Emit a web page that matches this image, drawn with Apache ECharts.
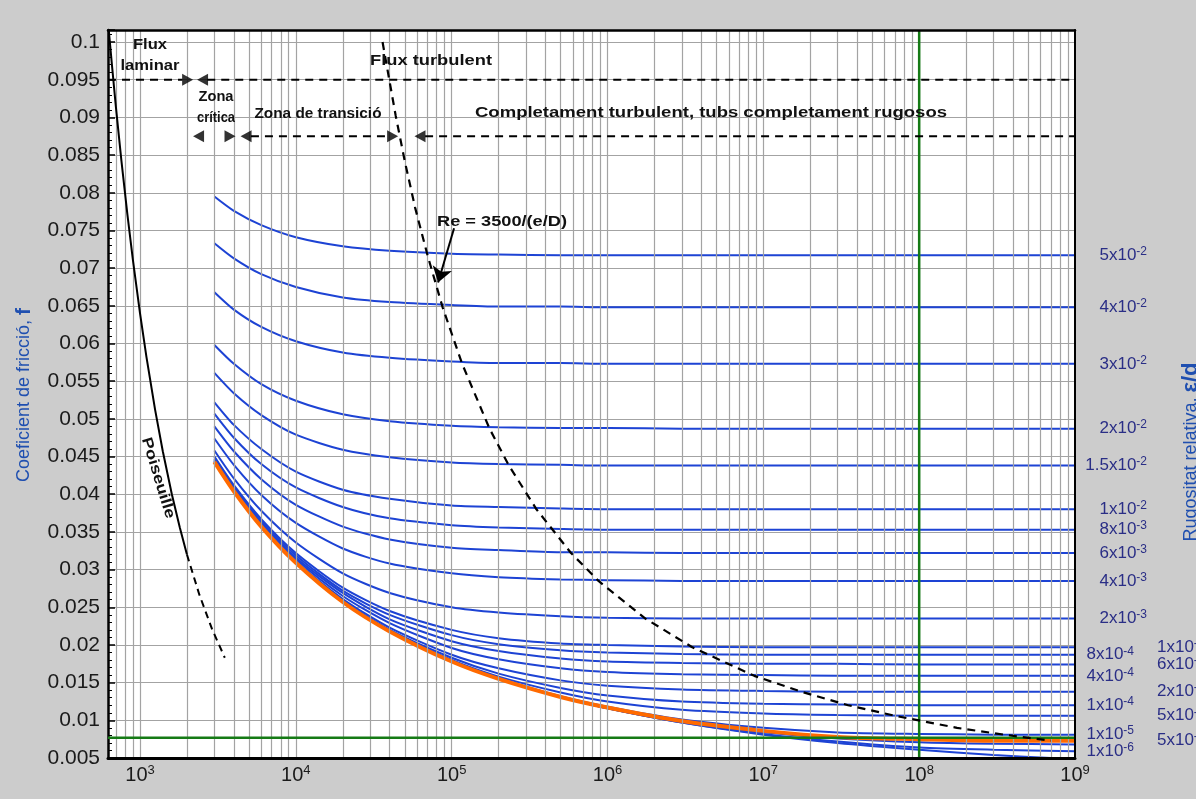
<!DOCTYPE html>
<html>
<head>
<meta charset="utf-8">
<title>Diagrama de Moody</title>
<script src="https://cdn.jsdelivr.net/npm/echarts@6/dist/echarts.min.js"></script>
<style>
  html, body { margin: 0; padding: 0; background: #cccccc; }
  #chart { width: 1196px; height: 799px; }
</style>
</head>
<body>
<div id="chart"></div>
<script>
// ---- axis ranges ----
const RE_MIN = 623;
const RE_MAX = 1e9;
const F_MIN = 0.005;
const F_MAX = 0.1016;

// ---- Reynolds numbers at which each roughness curve is sampled ----
const RE = [3000, 4000, 6000, 1e4, 2e4, 4e4, 1e5, 2e5, 5e5, 1e6, 3e6, 1e7, 3e7, 1e8, 3e8, 1e9];
const RE_TAIL = [5e5, 1e6, 3e6, 1e7, 3e7, 1e8, 3e8, 1e9];
const RE_TAIL_SHORT = [5e5, 1e6, 3e6, 1e7, 3e7, 1e8, 3e8, 7e8];

// ---- friction factor f for each relative roughness e/d ----
const F_5E_2  = [0.0795, 0.0776, 0.0757, 0.0741, 0.0729, 0.0723, 0.0719, 0.0718, 0.0717, 0.0717, 0.0717, 0.0717, 0.0717, 0.0717, 0.0717, 0.0717];
const F_4E_2  = [0.0733, 0.0713, 0.0692, 0.0675, 0.0661, 0.0655, 0.0651, 0.0649, 0.0649, 0.0648, 0.0648, 0.0648, 0.0648, 0.0648, 0.0648, 0.0648];
const F_3E_2  = [0.0668, 0.0645, 0.0622, 0.0603, 0.0588, 0.0581, 0.0576, 0.0574, 0.0574, 0.0573, 0.0573, 0.0573, 0.0573, 0.0573, 0.0573, 0.0573];
const F_2E_2  = [0.0598, 0.0573, 0.0546, 0.0524, 0.0506, 0.0497, 0.0491, 0.0489, 0.0488, 0.0488, 0.0487, 0.0487, 0.0487, 0.0487, 0.0487, 0.0487];
const F_15E_3 = [0.0561, 0.0534, 0.0505, 0.0479, 0.0459, 0.0449, 0.0442, 0.0440, 0.0439, 0.0438, 0.0438, 0.0438, 0.0438, 0.0438, 0.0438, 0.0438];
const F_1E_2  = [0.0522, 0.0492, 0.0460, 0.0430, 0.0406, 0.0394, 0.0385, 0.0383, 0.0381, 0.0380, 0.0380, 0.0380, 0.0380, 0.0380, 0.0380, 0.0380];
const F_8E_3  = [0.0507, 0.0475, 0.0440, 0.0409, 0.0383, 0.0368, 0.0359, 0.0356, 0.0354, 0.0353, 0.0353, 0.0353, 0.0353, 0.0353, 0.0353, 0.0353];
const F_6E_3  = [0.0490, 0.0457, 0.0420, 0.0386, 0.0357, 0.0340, 0.0329, 0.0326, 0.0323, 0.0323, 0.0322, 0.0322, 0.0322, 0.0322, 0.0322, 0.0322];
const F_4E_3  = [0.0474, 0.0439, 0.0399, 0.0362, 0.0328, 0.0308, 0.0295, 0.0290, 0.0287, 0.0286, 0.0285, 0.0285, 0.0285, 0.0285, 0.0285, 0.0285];
const F_2E_3  = [0.0458, 0.0421, 0.0378, 0.0336, 0.0295, 0.0269, 0.0250, 0.0243, 0.0238, 0.0236, 0.0235, 0.0235, 0.0235, 0.0235, 0.0235, 0.0235];
const F_1E_3  = [0.0450, 0.0412, 0.0367, 0.0322, 0.0276, 0.0245, 0.0220, 0.0209, 0.0202, 0.0200, 0.0198, 0.0197, 0.0197, 0.0197, 0.0197, 0.0197];
const F_8E_4  = [0.0449, 0.0410, 0.0365, 0.0319, 0.0272, 0.0240, 0.0213, 0.0201, 0.0193, 0.0190, 0.0188, 0.0187, 0.0187, 0.0187, 0.0187, 0.0187];
const F_6E_4  = [0.0447, 0.0409, 0.0363, 0.0316, 0.0269, 0.0234, 0.0205, 0.0192, 0.0182, 0.0178, 0.0176, 0.0175, 0.0175, 0.0174, 0.0174, 0.0174];
const F_4E_4  = [0.0446, 0.0407, 0.0361, 0.0314, 0.0265, 0.0229, 0.0196, 0.0181, 0.0169, 0.0164, 0.0161, 0.0160, 0.0159, 0.0159, 0.0159, 0.0159];
const F_2E_4  = [0.0445, 0.0406, 0.0359, 0.0311, 0.0261, 0.0223, 0.0187, 0.0169, 0.0153, 0.0146, 0.0141, 0.0139, 0.0138, 0.0138, 0.0138, 0.0138];
const F_1E_4  = [0.0444, 0.0405, 0.0358, 0.0310, 0.0259, 0.0220, 0.0183, 0.0162, 0.0143, 0.0133, 0.0125, 0.0122, 0.0121, 0.0120, 0.0120, 0.0120];
const F_5E_5  = [0.0444, 0.0404, 0.0358, 0.0309, 0.0258, 0.0219, 0.0180, 0.0158, 0.0137, 0.0125, 0.0114, 0.0109, 0.0107, 0.0106, 0.0106, 0.0106];
const F_1E_5  = [0.0443, 0.0404, 0.0357, 0.0309, 0.0258, 0.0218, 0.0179, 0.0156, 0.0132, 0.0118, 0.0101, 0.0090, 0.0084, 0.0082, 0.0081, 0.0081];
const F_5E_6  = [0.0443, 0.0404, 0.0357, 0.0309, 0.0257, 0.0218, 0.0178, 0.0155, 0.0131, 0.0117, 0.0099, 0.0086, 0.0078, 0.0075, 0.0073, 0.0073];
const F_3E_6  = [0.0131, 0.0116, 0.0098, 0.0084, 0.0076, 0.0071, 0.0069, 0.0068];
const F_1E_6  = [0.0131, 0.0116, 0.0097, 0.0082, 0.0072, 0.0064, 0.0061, 0.0059];
const F_1E_7  = [0.0131, 0.0116, 0.0097, 0.0081, 0.0070, 0.0061, 0.0054, 0.0050];

// ---- laminar (Poiseuille) flow ----
const RE_LAM = [623, 660, 700, 760, 830, 900, 1000, 1100, 1250, 1400, 1600, 1800, 2000];
const F_LAM = [0.1027, 0.0970, 0.0914, 0.0842, 0.0771, 0.0711, 0.0640, 0.0582, 0.0512, 0.0457, 0.0400, 0.0356, 0.0320];
const RE_LAM_EXT = [2000, 2400, 2900, 3500];
const F_LAM_EXT = [0.0320, 0.0267, 0.0221, 0.0183];

// ---- start of complete turbulence, Re = 3500/(e/D) ----
const RE_BOUND = [36000, 43750, 50000, 58300, 70000, 87500, 116700, 175000, 233000, 350000, 583000, 875000, 1.75e6, 3.5e6, 8.75e6, 1.75e7, 3.5e7, 7e7, 1.75e8, 3.5e8, 7e8];
const F_BOUND = [0.1000, 0.0902, 0.0842, 0.0780, 0.0717, 0.0648, 0.0573, 0.0487, 0.0438, 0.0380, 0.0322, 0.0285, 0.0235, 0.0197, 0.0159, 0.0138, 0.0120, 0.0106, 0.0090, 0.0081, 0.0073];

// ---- flow regime bands ----
const F_BAND_TOP = 0.095;
const F_BAND_LOW = 0.0875;
const BAND_TOP_SEGMENTS = [[RE_MIN, 1870], [2700, RE_MAX]];
const BAND_LOW_SEGMENTS = [[5150, 38500], [67500, RE_MAX]];
const BAND_TOP_ARROWS_RIGHT = [2020];
const BAND_TOP_ARROWS_LEFT = [2520];
const BAND_LOW_ARROWS_RIGHT = [3780, 41800];
const BAND_LOW_ARROWS_LEFT = [2375, 4790, 62600];
const POINTER_FROM = [103600, 0.0753];
const POINTER_TO = [81800, 0.0681];

// ---- reference marks ----
const RE_MARK = 1e8;
const F_MARK = 0.0077;

// ---- vertical log grid ----
const GRID_MULTIPLIERS = [1, 2, 3, 4, 5, 6, 7, 8, 9];
const GRID_DECADES = [1e2, 1e3, 1e4, 1e5, 1e6, 1e7, 1e8, 1e9];

const FONT = '"Liberation Sans", Arial, Helvetica, sans-serif';
const BLUE = '#1d43d4';
const ORANGE = '#ff6a00';
const GREEN = '#157a15';
const NAVY = '#2a2e86';
const TITLE_BLUE = '#1f4fb0';
const GRID_GREY = '#a3a3a3';

// curve list: roughness label, label column, sample points
const CURVES = [
  { label: ['5x10', '-2'],   col: 'a', re: RE, f: F_5E_2 },
  { label: ['4x10', '-2'],   col: 'a', re: RE, f: F_4E_2 },
  { label: ['3x10', '-2'],   col: 'a', re: RE, f: F_3E_2 },
  { label: ['2x10', '-2'],   col: 'a', re: RE, f: F_2E_2 },
  { label: ['1.5x10', '-2'], col: 'a', re: RE, f: F_15E_3 },
  { label: ['1x10', '-2'],   col: 'a', re: RE, f: F_1E_2 },
  { label: ['8x10', '-3'],   col: 'a', re: RE, f: F_8E_3 },
  { label: ['6x10', '-3'],   col: 'a', re: RE, f: F_6E_3 },
  { label: ['4x10', '-3'],   col: 'a', re: RE, f: F_4E_3 },
  { label: ['2x10', '-3'],   col: 'a', re: RE, f: F_2E_3 },
  { label: ['1x10', '-3'],   col: 'c', re: RE, f: F_1E_3 },
  { label: ['8x10', '-4'],   col: 'b', re: RE, f: F_8E_4 },
  { label: ['6x10', '-4'],   col: 'c', re: RE, f: F_6E_4 },
  { label: ['4x10', '-4'],   col: 'b', re: RE, f: F_4E_4 },
  { label: ['2x10', '-4'],   col: 'c', re: RE, f: F_2E_4 },
  { label: ['1x10', '-4'],   col: 'b', re: RE, f: F_1E_4 },
  { label: ['5x10', '-5'],   col: 'c', re: RE, f: F_5E_5 },
  { label: ['1x10', '-5'],   col: 'b', re: RE, f: F_1E_5 },
  { label: null,             col: null, re: RE_TAIL, f: F_3E_6 },
  { label: ['1x10', '-6'],   col: 'b', re: RE_TAIL, f: F_1E_6 },
  { label: null,             col: null, re: RE_TAIL_SHORT, f: F_1E_7 },
  { label: ['5x10', '-6'],   col: 'c', re: RE, f: F_5E_6, highlight: true }
];

const pairs = (xs, ys) => xs.map((x, i) => [x, ys[i]]);

const gridValues = [];
GRID_DECADES.forEach(d => GRID_MULTIPLIERS.forEach(m => {
  const v = m * d;
  if (v > RE_MIN && v < RE_MAX) gridValues.push(v);
}));

const series = [];

// vertical grid lines at 1..9 x 10^k
series.push({
  type: 'line', data: [], silent: true, z: 1,
  markLine: {
    silent: true, symbol: ['none', 'none'], label: { show: false },
    lineStyle: { color: GRID_GREY, width: 1.2, type: 'solid' },
    emphasis: { disabled: true },
    data: gridValues.map(v => ({ xAxis: v }))
  }
});

// roughness curves
CURVES.forEach(c => {
  series.push({
    type: 'line', data: pairs(c.re, c.f), symbol: 'none', showSymbol: false,
    smooth: 0.25, silent: true,
    lineStyle: { color: c.highlight ? ORANGE : BLUE, width: c.highlight ? 4 : 2 },
    z: c.highlight ? 4 : 3
  });
});

// Poiseuille
series.push({
  type: 'line', data: pairs(RE_LAM, F_LAM), symbol: 'none', silent: true,
  lineStyle: { color: '#000', width: 2 }, z: 5
});
series.push({
  type: 'line', data: pairs(RE_LAM_EXT, F_LAM_EXT), symbol: 'none', silent: true,
  lineStyle: { color: '#000', width: 2, type: [7, 5] }, z: 5
});

// reference marks (green)
series.push({
  type: 'line', data: [[RE_MIN, F_MARK], [RE_MAX, F_MARK]], symbol: 'none', silent: true,
  lineStyle: { color: GREEN, width: 2.5 }, z: 6
});
series.push({
  type: 'line', data: [[RE_MARK, F_MIN], [RE_MARK, F_MAX]], symbol: 'none', silent: true,
  lineStyle: { color: GREEN, width: 2.5 }, z: 6
});

// start of complete turbulence
series.push({
  type: 'line', data: pairs(RE_BOUND, F_BOUND), symbol: 'none', silent: true,
  lineStyle: { color: '#000', width: 2.2, type: [8, 6] }, z: 7
});

// regime bands (dashed) and their arrowheads
BAND_TOP_SEGMENTS.forEach(s => series.push({
  type: 'line', data: [[s[0], F_BAND_TOP], [s[1], F_BAND_TOP]], symbol: 'none', silent: true,
  lineStyle: { color: '#000', width: 2, type: [8, 6] }, z: 7
}));
BAND_LOW_SEGMENTS.forEach(s => series.push({
  type: 'line', data: [[s[0], F_BAND_LOW], [s[1], F_BAND_LOW]], symbol: 'none', silent: true,
  lineStyle: { color: '#000', width: 2, type: [8, 6] }, z: 7
}));
const arrowItems = [];
BAND_TOP_ARROWS_RIGHT.forEach(r => arrowItems.push({ value: [r, F_BAND_TOP], symbolRotate: -90 }));
BAND_TOP_ARROWS_LEFT.forEach(r => arrowItems.push({ value: [r, F_BAND_TOP], symbolRotate: 90 }));
BAND_LOW_ARROWS_RIGHT.forEach(r => arrowItems.push({ value: [r, F_BAND_LOW], symbolRotate: -90 }));
BAND_LOW_ARROWS_LEFT.forEach(r => arrowItems.push({ value: [r, F_BAND_LOW], symbolRotate: 90 }));
series.push({
  type: 'scatter', data: arrowItems, symbol: 'triangle', symbolSize: [12, 11], silent: true,
  itemStyle: { color: '#000' }, z: 8
});

// pointer to the Re = 3500/(e/D) curve
series.push({
  type: 'line', data: [], silent: true, z: 8,
  markLine: {
    silent: true, symbol: ['none', 'arrow'], symbolSize: 15, label: { show: false },
    lineStyle: { color: '#000', width: 2, type: 'solid' },
    emphasis: { disabled: true },
    data: [[{ coord: POINTER_FROM }, { coord: POINTER_TO }]]
  }
});

const option = {
  backgroundColor: '#cccccc',
  animation: false,
  grid: {
    left: 108, right: 121, top: 30, bottom: 41,
    show: true, backgroundColor: '#ffffff', borderWidth: 0,
    containLabel: false, outerBoundsMode: 'none'
  },
  xAxis: [
    {
      type: 'log', logBase: 10, min: RE_MIN, max: RE_MAX, position: 'bottom', z: 10,
      axisLine: { show: true, lineStyle: { color: '#000', width: 3 } },
      axisTick: { show: false },
      splitLine: { show: false },
      axisLabel: {
        margin: 6, showMinLabel: true,
        formatter: v => {
          const e = Math.round(Math.log10(v));
          return Math.abs(Math.log10(v) - e) < 1e-6 ? '{b|10}{s|' + e + '}' : '';
        },
        rich: {
          b: { fontSize: 20, fontFamily: FONT, color: '#1a1a1a', lineHeight: 22 },
          s: { fontSize: 13, fontFamily: FONT, color: '#1a1a1a', lineHeight: 13, verticalAlign: 'top' }
        }
      }
    },
    {
      type: 'log', logBase: 10, min: RE_MIN, max: RE_MAX, position: 'top', z: 10,
      axisLine: { show: true, lineStyle: { color: '#000', width: 2.5 } },
      axisTick: { show: false }, axisLabel: { show: false }, splitLine: { show: false }
    }
  ],
  yAxis: [
    {
      type: 'value', min: F_MIN, max: F_MAX, interval: 0.005, position: 'left', z: 0,
      axisLine: { show: true, lineStyle: { color: '#000', width: 2.5 } },
      axisTick: { show: true, inside: true, length: 7, lineStyle: { color: '#000', width: 1.5 } },
      minorTick: { show: true, splitNumber: 5, length: 4, lineStyle: { color: '#000', width: 1 } },
      splitLine: { show: true, lineStyle: { color: GRID_GREY, width: 1.2 } },
      axisLabel: {
        fontSize: 21, fontFamily: FONT, color: '#1a1a1a', margin: 8, showMaxLabel: false,
        formatter: v => String(+v.toFixed(3))
      }
    },
    {
      type: 'value', min: F_MIN, max: F_MAX, position: 'right', z: 10,
      axisLine: { show: true, lineStyle: { color: '#000', width: 2 } },
      axisTick: { show: false }, axisLabel: { show: false }, splitLine: { show: false }
    }
  ],
  series: series
};

const chart = echarts.init(document.getElementById('chart'), null, { renderer: 'canvas' });
chart.setOption(option);

// ---- text layer ----
const measureCtx = document.createElement('canvas').getContext('2d');
function fitScale(text, size, weight, width) {
  measureCtx.font = weight + ' ' + size + 'px ' + FONT;
  return width / measureCtx.measureText(text).width;
}
function note(text, x, y, width, opts) {
  opts = opts || {};
  const size = opts.size || 15;
  const weight = opts.weight || 'bold';
  return {
    type: 'text', x: x, y: y, rotation: opts.rotation || 0,
    scaleX: fitScale(text, size, weight, width), silent: true, z: 20,
    style: {
      text: text, fontSize: size, fontWeight: weight, fontFamily: FONT, fill: '#111',
      align: 'center', verticalAlign: 'middle', textAlign: 'center', textVerticalAlign: 'middle'
    }
  };
}

const px = (re, f) => chart.convertToPixel({ gridIndex: 0 }, [re, f]);
const xEdge = px(RE_MAX, F_MIN)[0];

const graphics = [
  note('Flux', 150, 45, 34, { size: 14 }),
  note('laminar', 150, 66, 59, { size: 14 }),
  note('Zona', 216, 97, 35, { size: 14 }),
  note('crítica', 216, 118, 38, { size: 14 }),
  note('Zona de transició', 318, 114, 127),
  note('Flux turbulent', 431, 61, 122),
  note('Completament turbulent, tubs completament rugosos', 711, 113, 472),
  note('Re = 3500/(e/D)', 502, 222, 130),
  note('Poiseuille', 158, 478, 84, { rotation: -1.274 })
];

// roughness labels at the end of each curve
const labelRich = {
  b: { fontSize: 17, fontFamily: FONT, fill: NAVY, color: NAVY, lineHeight: 19 },
  s: { fontSize: 12, fontFamily: FONT, fill: NAVY, color: NAVY, lineHeight: 12, verticalAlign: 'top' }
};
CURVES.forEach(c => {
  if (!c.label) return;
  const y = px(c.re[c.re.length - 1], c.f[c.f.length - 1])[1];
  let x, align;
  if (c.col === 'a') { x = xEdge + 72; align = 'right'; }
  else if (c.col === 'b') { x = xEdge + 59; align = 'right'; }
  else { x = xEdge + 82; align = 'left'; }
  graphics.push({
    type: 'text', x: x, y: y, silent: true, z: 20,
    style: {
      text: '{b|' + c.label[0] + '}{s|' + c.label[1] + '}', rich: labelRich,
      align: align, verticalAlign: 'middle', textAlign: align, textVerticalAlign: 'middle'
    }
  });
});

// axis titles
graphics.push({
  type: 'text', x: 24, y: 395, rotation: Math.PI / 2, silent: true, z: 20,
  style: {
    text: '{a|Coeficient de fricció, }{b|f}',
    rich: {
      a: { fontSize: 18, fontFamily: FONT, fill: TITLE_BLUE, color: TITLE_BLUE },
      b: { fontSize: 21, fontWeight: 'bold', fontFamily: FONT, fill: TITLE_BLUE, color: TITLE_BLUE }
    },
    align: 'center', verticalAlign: 'middle', textAlign: 'center', textVerticalAlign: 'middle'
  }
});
graphics.push({
  type: 'text', x: 1191, y: 452, rotation: Math.PI / 2, silent: true, z: 20,
  style: {
    text: '{a|Rugositat relativa, }{b|ε/d}',
    rich: {
      a: { fontSize: 18, fontFamily: FONT, fill: TITLE_BLUE, color: TITLE_BLUE },
      b: { fontSize: 22, fontWeight: 'bold', fontFamily: FONT, fill: TITLE_BLUE, color: TITLE_BLUE }
    },
    align: 'center', verticalAlign: 'middle', textAlign: 'center', textVerticalAlign: 'middle'
  }
});

chart.setOption({ graphic: graphics });
</script>
</body>
</html>
